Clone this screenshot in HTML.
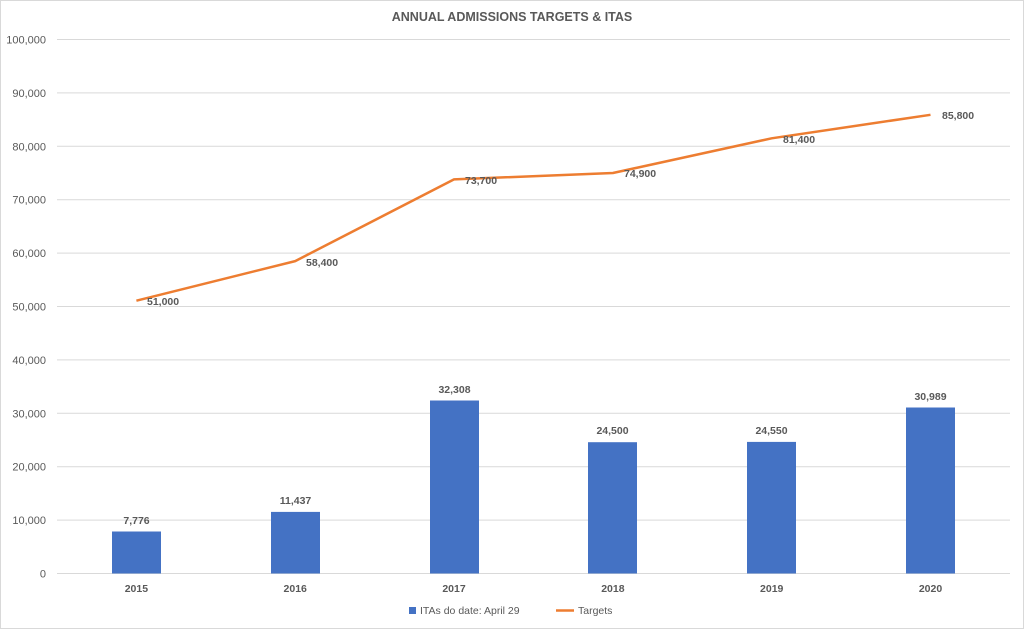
<!DOCTYPE html><html><head><style>body{margin:0;background:#fff}svg text{font-family:"Liberation Sans",sans-serif;fill:#595959}</style></head><body>
<svg width="1024" height="629" xmlns="http://www.w3.org/2000/svg">
<rect x="0.5" y="0.5" width="1023" height="628" fill="#fff" stroke="#d9d9d9"/>
<text x="512" y="21" text-anchor="middle" font-size="12.5" font-weight="bold">ANNUAL ADMISSIONS TARGETS &amp; ITAS</text>
<g stroke="#d9d9d9" stroke-width="1">
<line x1="57" x2="1010" y1="39.5" y2="39.5"/><line x1="57" x2="1010" y1="92.9" y2="92.9"/><line x1="57" x2="1010" y1="146.3" y2="146.3"/><line x1="57" x2="1010" y1="199.7" y2="199.7"/><line x1="57" x2="1010" y1="253.1" y2="253.1"/><line x1="57" x2="1010" y1="306.5" y2="306.5"/><line x1="57" x2="1010" y1="359.9" y2="359.9"/><line x1="57" x2="1010" y1="413.3" y2="413.3"/><line x1="57" x2="1010" y1="466.7" y2="466.7"/><line x1="57" x2="1010" y1="520.1" y2="520.1"/><line x1="57" x2="1010" y1="573.5" y2="573.5"/>
</g>
<g font-size="11" text-anchor="end">
<text x="46" y="43.5">100,000</text><text x="46" y="96.9">90,000</text><text x="46" y="150.3">80,000</text><text x="46" y="203.7">70,000</text><text x="46" y="257.1">60,000</text><text x="46" y="310.5">50,000</text><text x="46" y="363.9">40,000</text><text x="46" y="417.3">30,000</text><text x="46" y="470.7">20,000</text><text x="46" y="524.1">10,000</text><text x="46" y="577.5">0</text>
</g>
<g fill="#4472c4">
<rect x="112" y="531.5" width="49" height="42"/><rect x="271" y="511.9" width="49" height="61.6"/><rect x="430" y="400.5" width="49" height="173"/><rect x="588" y="442.2" width="49" height="131.3"/><rect x="747" y="441.9" width="49" height="131.6"/><rect x="906" y="407.5" width="49" height="166"/>
</g>
<g font-size="10.5" font-weight="bold" text-anchor="middle" fill="#404040">
<text x="136.5" y="524">7,776</text><text x="295.5" y="504">11,437</text><text x="454.5" y="393">32,308</text><text x="612.5" y="434">24,500</text><text x="771.5" y="434">24,550</text><text x="930.5" y="400">30,989</text>
</g>
<polyline points="136.4,300.7 295.2,261.1 454,179.4 612.9,173 771.7,138.3 930.5,114.8" fill="none" stroke="#ed7d31" stroke-width="2.5" stroke-linejoin="round"/>
<g font-size="10.5" font-weight="bold">
<text x="147" y="305">51,000</text><text x="306" y="266">58,400</text><text x="465" y="184">73,700</text><text x="624" y="177">74,900</text><text x="783" y="143">81,400</text><text x="942" y="119">85,800</text>
</g>
<g font-size="10.5" font-weight="bold" text-anchor="middle">
<text x="136.4" y="592">2015</text><text x="295.2" y="592">2016</text><text x="454" y="592">2017</text><text x="612.9" y="592">2018</text><text x="771.7" y="592">2019</text><text x="930.5" y="592">2020</text>
</g>
<rect x="409" y="607" width="7" height="7" fill="#4472c4"/>
<text x="420" y="614" font-size="10.5">ITAs do date: April 29</text>
<line x1="556" x2="574" y1="610.5" y2="610.5" stroke="#ed7d31" stroke-width="2.5"/>
<text x="578" y="614" font-size="10.5">Targets</text>
</svg></body></html>
